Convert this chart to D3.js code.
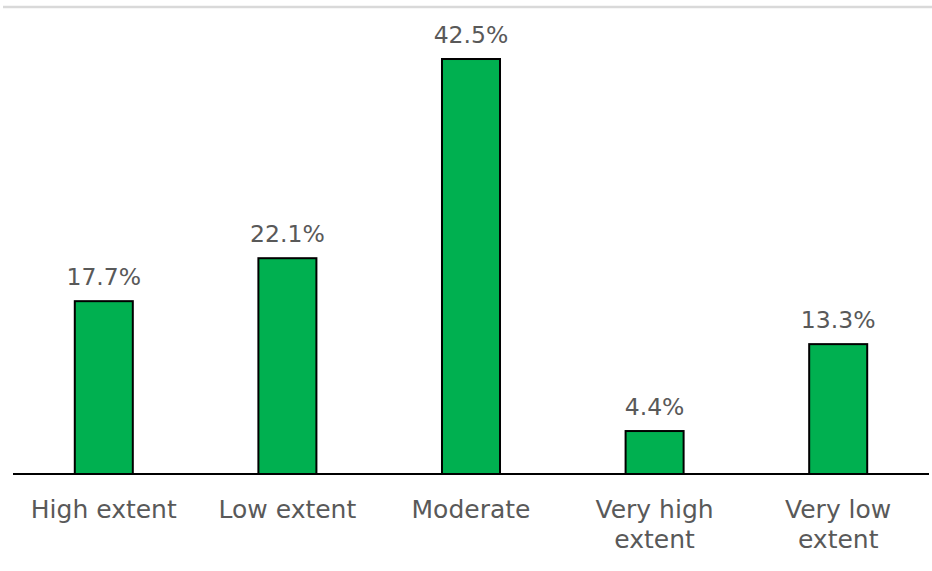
<!DOCTYPE html>
<html>
<head>
<meta charset="utf-8">
<script src="https://cdn.jsdelivr.net/npm/d3@7"></script>
<style>
  html, body { margin: 0; padding: 0; background: #fff; }
  svg { display: block; }
  text { font-family: "DejaVu Sans", Verdana, sans-serif; fill: #595959; }
</style>
</head>
<body>
<svg id="chart" width="932" height="571"></svg>
<script>
// Share of respondents by extent
const categories = ["High extent", "Low extent", "Moderate", "Very high extent", "Very low extent"];
const categoryLines = [["High extent"], ["Low extent"], ["Moderate"], ["Very high", "extent"], ["Very low", "extent"]];
const values = [17.7, 22.1, 42.5, 4.4, 13.3];

const width = 932, height = 571;
const svg = d3.select("#chart");

// Frame line across the top
svg.append("line")
  .attr("x1", 3).attr("x2", width)
  .attr("y1", 7).attr("y2", 7)
  .attr("stroke", "#d9d9d9").attr("stroke-width", 2.5);

const x = d3.scaleBand()
  .domain(categories)
  .range([12, 930])
  .paddingInner(0.684)
  .paddingOuter(0.342);

const y = d3.scaleLinear()
  .domain([0, 45])
  .range([474, 34.6]);

// Bars
svg.append("g").selectAll("rect")
  .data(values)
  .join("rect")
  .attr("x", (d, i) => x(categories[i]))
  .attr("y", d => y(d))
  .attr("width", x.bandwidth())
  .attr("height", d => y(0) - y(d))
  .attr("fill", "#00b050")
  .attr("stroke", "#000")
  .attr("stroke-width", 2);

// Value labels
svg.append("g").selectAll("text")
  .data(values)
  .join("text")
  .attr("x", (d, i) => x(categories[i]) + x.bandwidth() / 2)
  .attr("y", d => y(d) - 16)
  .attr("text-anchor", "middle")
  .attr("font-size", 23.5)
  .text(d => d.toFixed(1) + "%");

// Category axis
const axis = svg.append("g")
  .attr("transform", `translate(0,${y(0)})`)
  .call(d3.axisBottom(x).tickSize(0).tickFormat(""));
axis.select(".domain")
  .attr("d", "M13,0H929")
  .attr("stroke", "#000")
  .attr("stroke-width", 2);

const labels = svg.append("g").selectAll("text")
  .data(categories)
  .join("text")
  .attr("x", d => x(d) + x.bandwidth() / 2)
  .attr("y", 518)
  .attr("text-anchor", "middle")
  .attr("font-size", 25);
labels.each(function(d, i) {
  d3.select(this).selectAll("tspan")
    .data(categoryLines[i])
    .join("tspan")
    .attr("x", x(d) + x.bandwidth() / 2)
    .attr("dy", (t, j) => j === 0 ? 0 : 30)
    .text(t => t);
});
</script>
</body>
</html>
